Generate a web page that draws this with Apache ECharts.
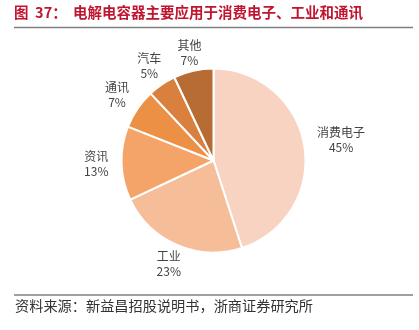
<!DOCTYPE html>
<html>
<head>
<meta charset="utf-8">
<style>
  html, body { margin: 0; padding: 0; background: #fff; }
  #chart { width: 419px; height: 330px; }
</style>
<script src="https://cdn.jsdelivr.net/npm/echarts@6/dist/echarts.min.js"></script>
</head>
<body>
<div id="chart"></div>
<script>
// Application shares of electrolytic capacitors (%)
const categories = ['消费电子', '工业', '资讯', '通讯', '汽车', '其他'];
const shares = [45, 23, 13, 7, 5, 7];
const sliceColors = ['#F9D3C1', '#F6BD99', '#F4A468', '#EC9045', '#D9803F', '#B66C32'];

const titleNo = '图  37：';
const titleText = '电解电容器主要应用于消费电子、工业和通讯';
const sourceText = '资料来源：新益昌招股说明书，浙商证券研究所';

const CX = 213.5, CY = 160.5, R = 92;
const total = shares.reduce((a, b) => a + b, 0);

// Mid-angle direction of each slice (clockwise from 12 o'clock)
function sliceDir(idx) {
  let before = 0;
  for (let i = 0; i < idx; i++) before += shares[i];
  const mid = (before + shares[idx] / 2) / total * Math.PI * 2;
  return [Math.sin(mid), -Math.cos(mid)];
}

const chart = echarts.init(document.getElementById('chart'), null, { renderer: 'canvas' });

chart.setOption({
  animation: false,
  backgroundColor: '#ffffff',
  graphic: [
    {
      type: 'text', left: 14, top: 5,
      style: {
        text: titleNo, fill: '#C0152F',
        font: 'bold 14.5px "Noto Sans CJK SC", sans-serif'
      }
    },
    {
      type: 'text', left: 73, top: 5,
      style: {
        text: titleText, fill: '#C0152F',
        font: 'bold 14.5px "Noto Sans CJK SC", sans-serif'
      }
    },
    {
      type: 'line',
      shape: { x1: 14, y1: 27.5, x2: 413, y2: 27.5 },
      style: { stroke: '#7f7f7f', lineWidth: 1.5 }
    },
    {
      type: 'line',
      shape: { x1: 14, y1: 295, x2: 413, y2: 295 },
      style: { stroke: '#7f7f7f', lineWidth: 1.5 }
    },
    {
      type: 'text', left: 15, top: 299,
      style: {
        text: sourceText, fill: '#333',
        font: '14.2px "Noto Sans CJK SC", sans-serif'
      }
    }
  ],
  series: [{
    type: 'pie',
    center: [CX, CY],
    radius: [0, R],
    startAngle: 90,
    clockwise: true,
    itemStyle: { borderColor: '#ffffff', borderWidth: 2 },
    label: {
      show: true,
      position: 'outside',
      formatter: p => p.name + '\n' + p.value + '%',
      color: '#444',
      fontSize: 12,
      lineHeight: 15,
      align: 'center',
      fontFamily: '"Noto Sans CJK SC", sans-serif'
    },
    labelLine: { show: false },
    labelLayout: function (params) {
      const d = sliceDir(params.dataIndex);
      const w = params.labelRect.width;
      const dist = R + 13 + Math.abs(d[0]) * w / 2 + Math.abs(d[1]) * 3;
      return {
        x: CX + d[0] * dist,
        y: CY + d[1] * dist,
        align: 'center',
        verticalAlign: 'middle'
      };
    },
    data: categories.map((name, i) => ({
      name: name,
      value: shares[i],
      itemStyle: { color: sliceColors[i] }
    }))
  }]
});
</script>
</body>
</html>
